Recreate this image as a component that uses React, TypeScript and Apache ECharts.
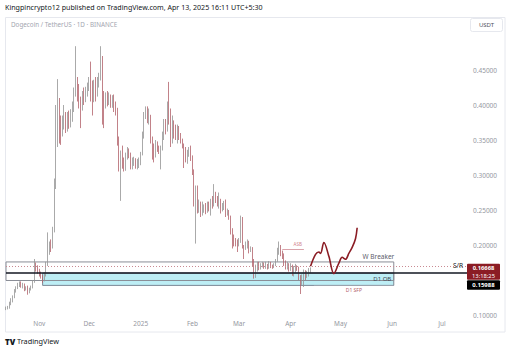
import React, { useEffect, useRef } from 'react';
import * as echarts from 'echarts';

// ---------- data ----------
const startDateUTC = Date.UTC(2024, 9, 12); // first category: 2024-10-12
const totalDays = 278; // categories through 2025-07-16
const firstOpen = 0.108;

// daily candles as [close, high, low]; open = previous close
const oct2024 = [
  [0.110, 0.112, 0.107], [0.111, 0.113, 0.108], [0.117, 0.119, 0.109], [0.120, 0.124, 0.114],
  [0.126, 0.128, 0.118], [0.134, 0.137, 0.124], [0.139, 0.141, 0.132], [0.142, 0.146, 0.137],
  [0.145, 0.148, 0.140], [0.142, 0.148, 0.139], [0.143, 0.146, 0.138], [0.137, 0.145, 0.134],
  [0.139, 0.141, 0.135], [0.132, 0.142, 0.129], [0.137, 0.139, 0.131], [0.140, 0.142, 0.135],
  [0.148, 0.150, 0.138], [0.170, 0.180, 0.146], [0.168, 0.175, 0.162], [0.164, 0.171, 0.159],
];
const nov2024 = [
  [0.160, 0.166, 0.155], [0.156, 0.162, 0.152], [0.152, 0.157, 0.146], [0.158, 0.161, 0.148],
  [0.172, 0.176, 0.155], [0.193, 0.218, 0.170], [0.203, 0.205, 0.186], [0.195, 0.208, 0.190],
  [0.222, 0.226, 0.195], [0.285, 0.295, 0.218], [0.352, 0.400, 0.280], [0.385, 0.437, 0.340],
  [0.372, 0.410, 0.345], [0.360, 0.385, 0.343], [0.378, 0.385, 0.355], [0.384, 0.400, 0.365],
  [0.372, 0.390, 0.360], [0.380, 0.390, 0.362], [0.375, 0.392, 0.366], [0.386, 0.394, 0.368],
  [0.398, 0.405, 0.376], [0.416, 0.425, 0.390], [0.435, 0.484, 0.412], [0.418, 0.440, 0.405],
  [0.405, 0.430, 0.395], [0.398, 0.412, 0.367], [0.415, 0.420, 0.392], [0.408, 0.425, 0.400],
  [0.420, 0.426, 0.404], [0.428, 0.432, 0.412],
];
const dec2024 = [
  [0.430, 0.440, 0.420], [0.422, 0.462, 0.405], [0.408, 0.435, 0.385], [0.428, 0.436, 0.404],
  [0.420, 0.440, 0.405], [0.433, 0.440, 0.412], [0.440, 0.446, 0.425], [0.466, 0.484, 0.435],
  [0.414, 0.470, 0.372], [0.405, 0.420, 0.367], [0.410, 0.418, 0.395], [0.408, 0.420, 0.398],
  [0.412, 0.418, 0.400], [0.403, 0.415, 0.396], [0.409, 0.414, 0.396], [0.398, 0.415, 0.390],
  [0.392, 0.405, 0.385], [0.350, 0.396, 0.342], [0.318, 0.355, 0.305], [0.330, 0.335, 0.263],
  [0.316, 0.342, 0.309], [0.313, 0.325, 0.305], [0.328, 0.332, 0.306], [0.334, 0.340, 0.322],
  [0.330, 0.338, 0.324], [0.312, 0.332, 0.308], [0.316, 0.325, 0.308], [0.322, 0.326, 0.313],
  [0.312, 0.324, 0.309], [0.313, 0.323, 0.308], [0.316, 0.325, 0.310],
];
const jan2025 = [
  [0.330, 0.333, 0.314], [0.355, 0.362, 0.328], [0.385, 0.390, 0.352], [0.392, 0.398, 0.380],
  [0.380, 0.398, 0.374], [0.382, 0.395, 0.372], [0.350, 0.386, 0.345], [0.340, 0.355, 0.322],
  [0.332, 0.345, 0.318], [0.345, 0.350, 0.325], [0.340, 0.348, 0.333], [0.334, 0.342, 0.330],
  [0.338, 0.342, 0.308], [0.356, 0.362, 0.335], [0.375, 0.380, 0.350], [0.365, 0.380, 0.358],
  [0.395, 0.405, 0.362], [0.382, 0.433, 0.372], [0.360, 0.395, 0.340], [0.372, 0.385, 0.345],
  [0.368, 0.378, 0.352], [0.358, 0.372, 0.350], [0.362, 0.372, 0.345], [0.356, 0.370, 0.350],
  [0.350, 0.360, 0.345], [0.342, 0.352, 0.338], [0.335, 0.345, 0.310], [0.322, 0.340, 0.318],
  [0.330, 0.336, 0.316], [0.336, 0.340, 0.326], [0.324, 0.342, 0.320],
];
const feb2025 = [
  [0.305, 0.328, 0.300], [0.270, 0.308, 0.255], [0.270, 0.285, 0.202], [0.252, 0.285, 0.245],
  [0.257, 0.265, 0.246], [0.245, 0.262, 0.240], [0.250, 0.262, 0.242], [0.254, 0.258, 0.246],
  [0.252, 0.260, 0.244], [0.258, 0.262, 0.246], [0.252, 0.262, 0.248], [0.262, 0.266, 0.242],
  [0.258, 0.270, 0.252], [0.272, 0.287, 0.255], [0.265, 0.276, 0.260], [0.258, 0.270, 0.255],
  [0.262, 0.275, 0.252], [0.252, 0.266, 0.245], [0.255, 0.260, 0.248], [0.260, 0.263, 0.250],
  [0.244, 0.265, 0.240], [0.247, 0.252, 0.242], [0.240, 0.250, 0.236], [0.220, 0.242, 0.215],
  [0.210, 0.224, 0.195], [0.205, 0.215, 0.198], [0.204, 0.210, 0.198], [0.200, 0.208, 0.190],
];
const mar2025 = [
  [0.206, 0.210, 0.198], [0.238, 0.242, 0.203], [0.198, 0.240, 0.195], [0.196, 0.200, 0.180],
  [0.200, 0.205, 0.193], [0.202, 0.208, 0.195], [0.193, 0.206, 0.188], [0.195, 0.198, 0.190],
  [0.173, 0.197, 0.170], [0.160, 0.180, 0.152], [0.168, 0.172, 0.153], [0.172, 0.176, 0.162],
  [0.167, 0.176, 0.164], [0.171, 0.174, 0.165], [0.173, 0.176, 0.168], [0.168, 0.175, 0.166],
  [0.172, 0.176, 0.166], [0.167, 0.173, 0.165], [0.174, 0.177, 0.166], [0.170, 0.176, 0.167],
  [0.169, 0.172, 0.166], [0.171, 0.174, 0.167], [0.178, 0.180, 0.170], [0.190, 0.196, 0.176],
  [0.195, 0.205, 0.186], [0.190, 0.200, 0.184], [0.185, 0.192, 0.180], [0.176, 0.188, 0.170],
  [0.170, 0.178, 0.165], [0.172, 0.176, 0.165], [0.166, 0.174, 0.162],
];
const apr2025 = [
  [0.168, 0.174, 0.163], [0.160, 0.172, 0.156], [0.168, 0.170, 0.155], [0.170, 0.173, 0.160],
  [0.167, 0.171, 0.163], [0.154, 0.169, 0.150], [0.146, 0.157, 0.130], [0.148, 0.158, 0.143],
  [0.162, 0.165, 0.140], [0.155, 0.164, 0.150], [0.160, 0.163, 0.153], [0.163, 0.167, 0.155],
  [0.16668, 0.168, 0.160],
];

// projected path (drawn curve)
const projDates = ['2025-04-13', '2025-04-16', '2025-04-18', '2025-04-19', '2025-04-21', '2025-04-24', '2025-04-27',
  '2025-04-30', '2025-05-02', '2025-05-04', '2025-05-06', '2025-05-08', '2025-05-10', '2025-05-11'];
const projValues = [0.1697, 0.1866, 0.190, 0.188, 0.2035, 0.1838, 0.159, 0.174, 0.1824, 0.1796, 0.188, 0.1965, 0.209, 0.2246];

// levels / zones
const yTickLabels = [0.10, 0.20, 0.25, 0.30, 0.35, 0.40, 0.45];
const lastPrice = 0.16668;
const countdown = '13:18:25';
const srPrice = 0.15988;
const wBreakerTop = 0.1758;
const wBreakerBottom = 0.1493;
const obTop = 0.15988;
const obBottom = 0.1423;
const obStart = '2024-11-03';
const zoneEnd = '2025-06-02';
const asbPrice = 0.1944;
const asbStart = '2025-03-27';
const asbEnd = '2025-04-09';
const sfpStart = '2025-04-15';

const monthNames = ['Jan', 'Feb', 'Mar', 'Apr', 'May', 'Jun', 'Jul', 'Aug', 'Sep', 'Oct', 'Nov', 'Dec'];

const categories: string[] = [];
for (let i = 0; i < totalDays; i++) {
  categories.push(new Date(startDateUTC + i * 86400000).toISOString().slice(0, 10));
}

const allDays = [...oct2024, ...nov2024, ...dec2024, ...jan2025, ...feb2025, ...mar2025, ...apr2025];
const candles: number[][] = [];
{
  let prev = firstOpen;
  for (const [c, h, l] of allDays) {
    const o = prev;
    candles.push([o, c, Math.min(l, o, c), Math.max(h, o, c)]);
    prev = c;
  }
}

const FONT = 'Noto Sans, Open Sans, sans-serif';

export default function App() {
  const ref = useRef<HTMLDivElement>(null);
  useEffect(() => {
    document.body.style.margin = '0';
    if (!ref.current) return;
    const chart = echarts.init(ref.current, undefined, { renderer: 'svg' });
    const option: any = {
      animation: false,
      backgroundColor: '#ffffff',
      grid: { left: 6, right: 45, top: -5, bottom: 2 },
      xAxis: {
        type: 'category',
        data: categories,
        boundaryGap: false,
        offset: -33,
        axisLine: { show: false },
        axisTick: { show: false },
        splitLine: { show: false },
        axisLabel: {
          interval: (_i: number, v: string) => v.endsWith('-01'),
          formatter: (v: string) => {
            const m = parseInt(v.slice(5, 7), 10) - 1;
            return m === 0 ? v.slice(0, 4) : monthNames[m];
          },
          color: '#9598a1',
          fontSize: 6.5,
          fontFamily: FONT,
          margin: 3,
        },
      },
      yAxis: {
        type: 'value',
        position: 'right',
        min: 0.05,
        max: 0.55,
        interval: 0.05,
        axisLine: { show: false },
        axisTick: { show: false },
        splitLine: { show: false },
        axisLabel: {
          formatter: (v: number) => (yTickLabels.some((t) => Math.abs(t - v) < 1e-6) ? v.toFixed(5) : ''),
          color: '#9598a1',
          fontSize: 6.5,
          fontFamily: FONT,
          margin: 6,
        },
      },
      series: [
        {
          type: 'candlestick',
          data: candles,
          barWidth: 1,
          itemStyle: {
            color: '#ababab',
            borderColor: '#949494',
            color0: '#801d28',
            borderColor0: '#b3626b',
            borderWidth: 0.8,
          },
          markArea: {
            silent: true,
            data: [
              [
                {
                  coord: [obStart, obTop],
                  itemStyle: { color: '#bdeef5', borderColor: '#7b8794', borderWidth: 1 },
                  label: {
                    show: true, position: 'insideRight', distance: 3, formatter: 'D1 OB',
                    color: '#434651', fontSize: 6, fontFamily: FONT,
                  },
                },
                { coord: [zoneEnd, obBottom] },
              ],
              [
                {
                  coord: [categories[0], wBreakerTop],
                  itemStyle: { color: 'rgba(0,0,0,0)', borderColor: '#8a8d96', borderWidth: 1 },
                  label: {
                    show: true, position: ['100%', -1], align: 'right', verticalAlign: 'bottom',
                    formatter: 'W Breaker', color: '#5d606b', fontSize: 6.5, fontFamily: FONT,
                  },
                },
                { coord: [zoneEnd, wBreakerBottom] },
              ],
            ],
          },
          markLine: {
            silent: true,
            symbol: ['none', 'none'],
            data: [
              {
                yAxis: lastPrice,
                lineStyle: { color: '#c98a92', width: 1, type: [1, 2] },
                label: { show: false },
              },
              {
                yAxis: srPrice,
                lineStyle: { color: '#131722', width: 1.6, type: 'solid' },
                label: {
                  show: true, position: 'insideEndTop', distance: 4, formatter: 'S/R',
                  color: '#131722', fontSize: 6.5, fontFamily: FONT,
                },
              },
              [
                {
                  coord: [asbStart, asbPrice],
                  lineStyle: { color: '#d9a3aa', width: 1, type: 'solid' },
                  label: {
                    show: true, position: 'insideEndTop', distance: 2, formatter: 'ASB',
                    color: '#d07f8a', fontSize: 4.5, fontFamily: FONT,
                  },
                },
                { coord: [asbEnd, asbPrice] },
              ],
              [
                {
                  coord: [sfpStart, obBottom],
                  lineStyle: { color: '#9aa3ad', width: 1, type: 'solid' },
                  label: {
                    show: true, position: 'insideMiddleBottom', distance: 2, formatter: 'D1 SFP',
                    color: '#b0606c', fontSize: 5, fontFamily: FONT,
                  },
                },
                { coord: [zoneEnd, obBottom] },
              ],
            ],
          },
        },
        {
          type: 'line',
          data: projDates.map((d, i) => [d, projValues[i]]),
          smooth: 0.35,
          showSymbol: false,
          symbol: 'none',
          lineStyle: { color: '#8b1c24', width: 1.6 },
          z: 5,
        },
      ],
    };
    chart.setOption(option);

    const yLast = chart.convertToPixel({ yAxisIndex: 0 }, lastPrice) as number;
    const ySR = chart.convertToPixel({ yAxisIndex: 0 }, srPrice) as number;
    const redTop = yLast - 4.5;
    const redH = 16;
    const blackTop = Math.max(ySR - 4.75, redTop + redH + 0.5);
    const tagX = 467;
    const tagW = 33;

    chart.setOption({
      graphic: [
        {
          type: 'rect', silent: true, z: 0,
          shape: { x: 5.5, y: 17.5, width: 499.5, height: 314.5 },
          style: { fill: 'none', stroke: '#e6e8ee', lineWidth: 1 },
        },
        {
          type: 'text', left: 5, top: 3, silent: true,
          style: {
            text: 'Kingpincrypto12 published on TradingView.com, Apr 13, 2025 16:11 UTC+5:30',
            fontSize: 7.1, fill: '#131722', fontFamily: FONT,
          },
        },
        {
          type: 'text', left: 11, top: 21, silent: true,
          style: { text: 'Dogecoin / TetherUS · 1D · BINANCE', fontSize: 6.3, fill: '#a3a6af', fontFamily: FONT },
        },
        {
          type: 'rect', silent: true,
          shape: { x: 470.5, y: 18.5, width: 32, height: 13, r: 2 },
          style: { fill: '#ffffff', stroke: '#e6e8ee', lineWidth: 1 },
        },
        {
          type: 'text', silent: true, x: 486.5, y: 25,
          style: { text: 'USDT', fontSize: 6, fill: '#50535e', fontFamily: FONT, align: 'center', verticalAlign: 'middle' },
        },
        {
          type: 'text', silent: true, left: 5, top: 337,
          style: { text: 'TV', fontSize: 8, fontWeight: 900, fill: '#131722', fontFamily: FONT },
        },
        {
          type: 'text', silent: true, left: 17, top: 337,
          style: { text: 'TradingView', fontSize: 7.3, fill: '#131722', fontFamily: FONT },
        },
        {
          type: 'rect', silent: true, z: 10,
          shape: { x: tagX, y: redTop, width: tagW, height: redH, r: 1 },
          style: { fill: '#8b1c24' },
        },
        {
          type: 'text', silent: true, z: 11, x: tagX + tagW / 2, y: yLast - 0.3,
          style: { text: lastPrice.toFixed(5), fontSize: 5.8, fontWeight: 'bold', fill: '#ffffff', fontFamily: FONT, align: 'center', verticalAlign: 'middle' },
        },
        {
          type: 'text', silent: true, z: 11, x: tagX + tagW / 2, y: yLast + 7.4,
          style: { text: countdown, fontSize: 5.8, fill: '#ffffff', fontFamily: FONT, align: 'center', verticalAlign: 'middle' },
        },
        {
          type: 'rect', silent: true, z: 10,
          shape: { x: tagX, y: blackTop, width: tagW, height: 9.5, r: 1 },
          style: { fill: '#000000' },
        },
        {
          type: 'text', silent: true, z: 11, x: tagX + tagW / 2, y: blackTop + 4.75,
          style: { text: srPrice.toFixed(5), fontSize: 6, fontWeight: 'bold', fill: '#ffffff', fontFamily: FONT, align: 'center', verticalAlign: 'middle' },
        },
      ],
    });

    return () => chart.dispose();
  }, []);
  return <div ref={ref} style={{ width: 512, height: 352 }} />;
}
